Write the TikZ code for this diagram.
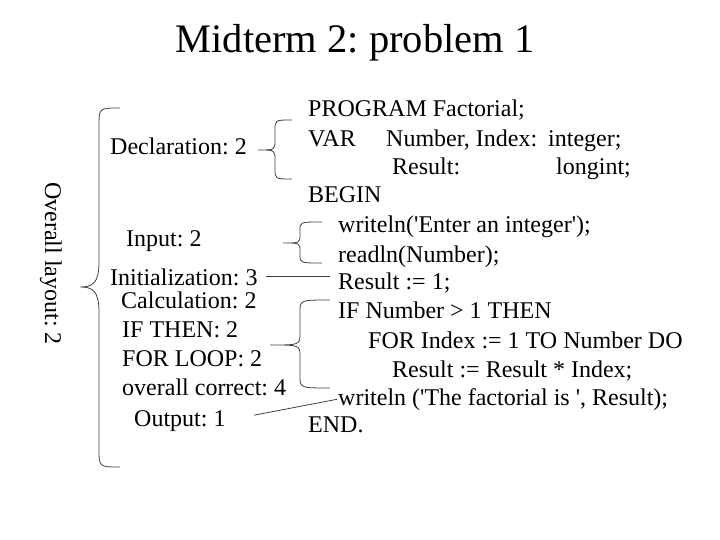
\documentclass[tikz,border=0pt]{standalone}
\usepackage{fontspec}
\setmainfont{Liberation Serif}[Ligatures=TeXOff]
\frenchspacing

\begin{document}
\begin{tikzpicture}[x=1pt,y=-1pt,font=\fontsize{24}{28}\selectfont]
    \tikzset{
        code/.style={anchor=base west,inner sep=0pt},
        part/.style={anchor=base west,inner sep=0pt},
        bracket/.style={draw=black!75,line width=0.8pt},
        link/.style={draw=black!75,line width=0.8pt}
    }
    \useasboundingbox (0,0) rectangle (720,540);

    \node[anchor=base,inner sep=0pt,font=\fontsize{40.5}{44}\selectfont] (title) at (355,53)
        {Midterm 2: problem 1};

    % program text
    \node[code] (prog) at (308,117) {PROGRAM Factorial;};
    \node[code] (var) at (308,147) {VAR};
    \node[code] (varnum) at (386,147) {Number, Index:};
    \node[code] (varint) at (548,147) {integer;};
    \node[code] (varres) at (392,175) {Result:};
    \node[code] (varlong) at (556,175) {longint;};
    \node[code] (begin) at (308,203) {BEGIN};
    \node[code] (wrenter) at (338,233) {writeln('Enter an integer');};
    \node[code] (rdnum) at (338,262) {readln(Number);};
    \node[code] (res1) at (338,289) {Result := 1;};
    \node[code] (ifnum) at (338,318) {IF Number > 1 THEN};
    \node[code] (forloop) at (368,348) {FOR Index := 1 TO Number DO};
    \node[code] (resmul) at (392,377) {Result := Result * Index;};
    \node[code] (wrfact) at (338,405) {writeln ('The factorial is ', Result);};
    \node[code] (end) at (308,432) {END.};

    % marking scheme
    \node[part,rotate=-90] (overall) at (45,182) {Overall layout: 2};
    \node[part] (decl) at (110,155) {Declaration: 2};
    \node[part] (input) at (126,246) {Input: 2};
    \node[part] (init) at (110,285) {Initialization: 3};
    \node[part] (calc) at (121,308) {Calculation: 2};
    \node[part] (ifthen) at (122,337) {IF THEN: 2};
    \node[part] (forl) at (122,366) {FOR LOOP: 2};
    \node[part] (correct) at (122,395) {overall correct: 4};
    \node[part] (out) at (134,426) {Output: 1};

    % braces
    \draw[bracket] (120,108) .. controls (99,108) .. (99,126) -- (99,262)
        .. controls (99,284) and (92,287) .. (80,287)
        .. controls (92,287) and (99,290) .. (99,312) -- (99,449)
        .. controls (99,467) .. (120,467);
    \draw[bracket] (292,120) .. controls (275,120) .. (275,130) -- (275,140)
        .. controls (275,150) .. (258,150) .. controls (275,150) .. (275,160)
        -- (275,169) .. controls (275,179) .. (292,179);
    \draw[bracket] (322,222) .. controls (300,222) .. (300,230) -- (300,235)
        .. controls (300,243) .. (283,243) .. controls (300,243) .. (300,251)
        -- (300,255) .. controls (300,263) .. (322,263);
    \draw[bracket] (330,300) .. controls (300,300) .. (300,312) -- (300,333)
        .. controls (300,345) .. (270,345) .. controls (300,345) .. (300,357)
        -- (300,376) .. controls (300,388) .. (330,388);

    \draw[link,shorten <=8pt,shorten >=8pt] (init.east) -- (init.east -| res1.west);
    \draw[link,shorten <=29pt,shorten >=1pt] (out.east) -- (wrfact.west);
\end{tikzpicture}
\end{document}
